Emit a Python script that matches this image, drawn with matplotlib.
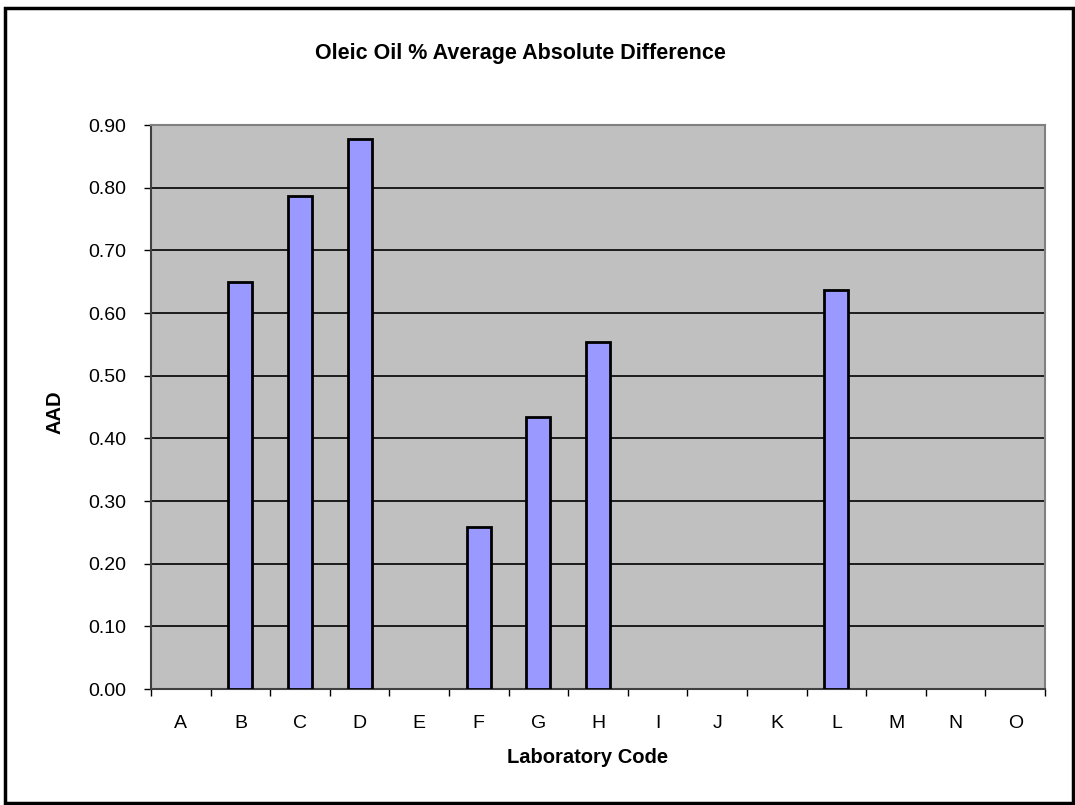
import matplotlib
matplotlib.use("Agg")
import matplotlib.pyplot as plt
import numpy as np
from matplotlib.patches import Rectangle

plt.rcParams['font.family'] = ['Liberation Sans', 'DejaVu Sans']

labs = ['A', 'B', 'C', 'D', 'E', 'F', 'G', 'H', 'I', 'J', 'K', 'L', 'M', 'N', 'O']
aad = [0.0, 0.65, 0.787, 0.878, 0.0, 0.259, 0.434, 0.554, 0.0, 0.0, 0.0, 0.637, 0.0, 0.0, 0.0]
yticks = [0.0, 0.1, 0.2, 0.3, 0.4, 0.5, 0.6, 0.7, 0.8, 0.9]

W, H = 1075, 805
fig = plt.figure(figsize=(W / 100, H / 100), dpi=100)
ax = fig.add_axes([151 / W, 1 - 689 / H, 894 / W, 564 / H])
ax.set_facecolor('#c0c0c0')

idx = np.arange(len(labs))
vals = np.array(aad)
show = vals > 0
ax.bar(idx[show], vals[show], width=0.4, color='#9999ff', edgecolor='black',
       linewidth=2, zorder=3)

ax.set_xlim(-0.5, len(labs) - 0.5)
ax.set_ylim(0, 0.9)
ax.set_yticks(yticks)
ax.set_yticklabels(['%.2f' % v for v in yticks], fontsize=14)
ax.yaxis.grid(True, color='black', linewidth=1.2, zorder=1)
ax.set_axisbelow(True)

# ticks between categories, labels centred
ax.set_xticks(np.arange(-0.5, len(labs), 1.0))
ax.set_xticklabels([])
ax.set_xticks(idx, minor=True)
ax.set_xticklabels(labs, minor=True, fontsize=14)
ax.tick_params(axis='x', which='minor', length=0, pad=19)
ax.tick_params(axis='x', which='major', length=5, direction='out', width=1)
ax.tick_params(axis='y', length=5, direction='out', width=1, pad=13)

for s in ['top', 'right']:
    ax.spines[s].set_color('#808080')
    ax.spines[s].set_linewidth(1.5)
for s in ['left', 'bottom']:
    ax.spines[s].set_color('#404040')
    ax.spines[s].set_linewidth(1.5)

fig.text(588 / W, 1 - 757 / H, 'Laboratory Code', ha='center', va='center',
         fontsize=14.5, fontweight='bold')
fig.text(55 / W, 1 - 412 / H, 'AAD', ha='center', va='center', rotation=90,
         fontsize=14.5, fontweight='bold')
fig.text(520 / W, 1 - 53 / H, 'Oleic Oil % Average Absolute Difference',
         ha='center', va='center', fontsize=15.5, fontweight='bold')

# chart border
fig.patches.append(Rectangle((5 / W, 0.002), 1068 / W, 1 - 8 / H - 0.002,
                             transform=fig.transFigure, fill=False,
                             edgecolor='black', linewidth=2.5))

fig.savefig('out.png', dpi=100)
